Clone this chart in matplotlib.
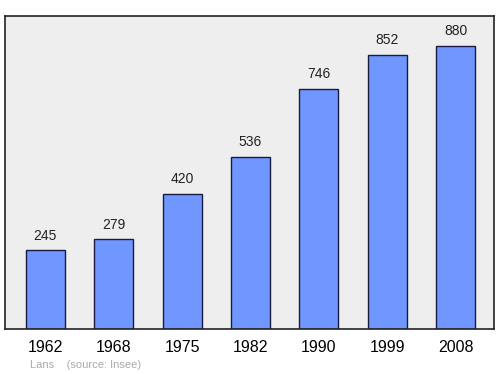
import matplotlib
matplotlib.use('Agg')
import matplotlib.pyplot as plt

plt.rcParams['font.family'] = ['Liberation Sans', 'DejaVu Sans']

years = ['1962', '1968', '1975', '1982', '1990', '1999', '2008']
population = [245, 279, 420, 536, 746, 852, 880]

fig = plt.figure(figsize=(5, 3.74), dpi=100)
ax = fig.add_axes([0.01, 0.1203, 0.978, 0.8369])
ax.set_facecolor('#eeeeee')

x = range(len(years))
ax.bar(x, population, width=0.57, color='#7097ff', edgecolor='#1a1a40', linewidth=1)
for i, v in zip(x, population):
    ax.annotate(str(v), (i, v), xytext=(0, 5.5), textcoords='offset points',
                ha='center', va='bottom', fontsize=10, color='#222222')

ax.set_xlim(-0.59, 6.56)
ax.set_ylim(0, 973)
ax.set_xticks(list(x))
ax.set_xticklabels(years, fontsize=11.5)
ax.tick_params(axis='x', length=0, pad=8)
ax.set_yticks([])
for s in ax.spines.values():
    s.set_linewidth(1.2)
    s.set_color('#222222')

fig.text(0.06, 0.015, 'Lans    (source: Insee)', fontsize=8, color='#aaaaaa')

fig.savefig('out.png', dpi=100)
